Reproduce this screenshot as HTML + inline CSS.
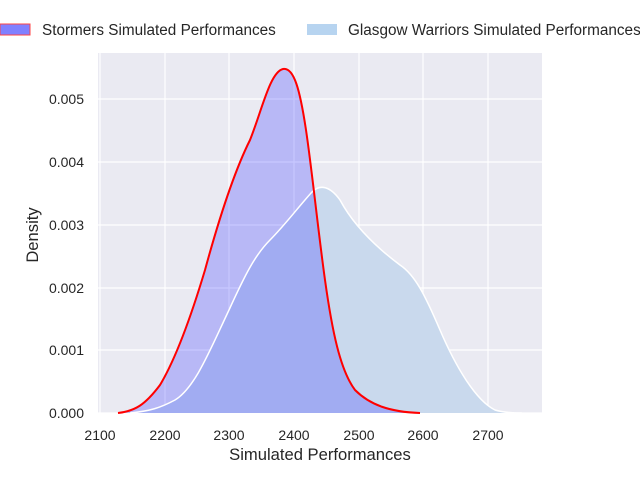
<!DOCTYPE html>
<html><head><style>body{margin:0;background:#fff}svg{display:block}</style></head><body>
<svg width="640" height="480" xmlns="http://www.w3.org/2000/svg" font-family="Liberation Sans, DejaVu Sans, sans-serif" fill="#262626">
<rect x="98" y="53" width="444" height="360" fill="#eaeaf2"/>
<g stroke="#fff" stroke-width="1.2">
<line x1="100" y1="53" x2="100" y2="413"/><line x1="165" y1="53" x2="165" y2="413"/><line x1="229" y1="53" x2="229" y2="413"/><line x1="294" y1="53" x2="294" y2="413"/><line x1="359" y1="53" x2="359" y2="413"/><line x1="423" y1="53" x2="423" y2="413"/><line x1="488" y1="53" x2="488" y2="413"/>
<line x1="98" y1="413" x2="542" y2="413"/><line x1="98" y1="350" x2="542" y2="350"/><line x1="98" y1="288" x2="542" y2="288"/><line x1="98" y1="225" x2="542" y2="225"/><line x1="98" y1="162" x2="542" y2="162"/><line x1="98" y1="99" x2="542" y2="99"/>
</g>
<path d="M130,413 C150,411 160,408 175,400 C195,388 210,350 229,310 C245,275 255,255 270,240 C285,225 300,205 312,192 C320,184 330,186 340,200 C355,228 380,250 400,265 C415,275 425,295 440,330 C455,365 475,400 495,410 C505,413 515,413 522,413 Z" fill="#c9d9ed"/>
<path d="M118,413 C135,411 145,405 160,385 C175,360 190,320 205,270 C220,215 235,170 250,140 C262,110 270,72 283,69 C294,67 300,90 306,130 C312,170 318,230 325,280 C332,330 340,370 355,390 C370,405 390,412 420,413 Z" fill="rgba(70,70,255,0.3)"/>
<path d="M130,413 C150,411 160,408 175,400 C195,388 210,350 229,310 C245,275 255,255 270,240 C285,225 300,205 312,192 C320,184 330,186 340,200 C355,228 380,250 400,265 C415,275 425,295 440,330 C455,365 475,400 495,410 C505,413 515,413 522,413" fill="none" stroke="#fff" stroke-width="1.5"/>
<path d="M118,413 C135,411 145,405 160,385 C175,360 190,320 205,270 C220,215 235,170 250,140 C262,110 270,72 283,69 C294,67 300,90 306,130 C312,170 318,230 325,280 C332,330 340,370 355,390 C370,405 390,412 420,413" fill="none" stroke="#f00" stroke-width="2"/>
<g font-size="14" text-anchor="middle">
<text x="100" y="440">2100</text><text x="165" y="440">2200</text><text x="229" y="440">2300</text><text x="294" y="440">2400</text><text x="359" y="440">2500</text><text x="423" y="440">2600</text><text x="488" y="440">2700</text>
<text x="320" y="460" font-size="16.6">Simulated Performances</text>
</g>
<g font-size="14" text-anchor="end">
<text x="84" y="418">0.000</text><text x="84" y="355">0.001</text><text x="84" y="293">0.002</text><text x="84" y="230">0.003</text><text x="84" y="167">0.004</text><text x="84" y="104">0.005</text>
</g>
<text transform="translate(38,235) rotate(-90)" font-size="16.6" text-anchor="middle">Density</text>
<rect x="0" y="24" width="30" height="11" fill="#8080ff" stroke="#f44" stroke-width="1"/>
<text x="42" y="35" font-size="15.3">Stormers Simulated Performances</text>
<rect x="307" y="24" width="30" height="11" fill="#b7d4f0"/>
<text x="348" y="35" font-size="15.3">Glasgow Warriors Simulated Performances</text>
</svg>
</body></html>
